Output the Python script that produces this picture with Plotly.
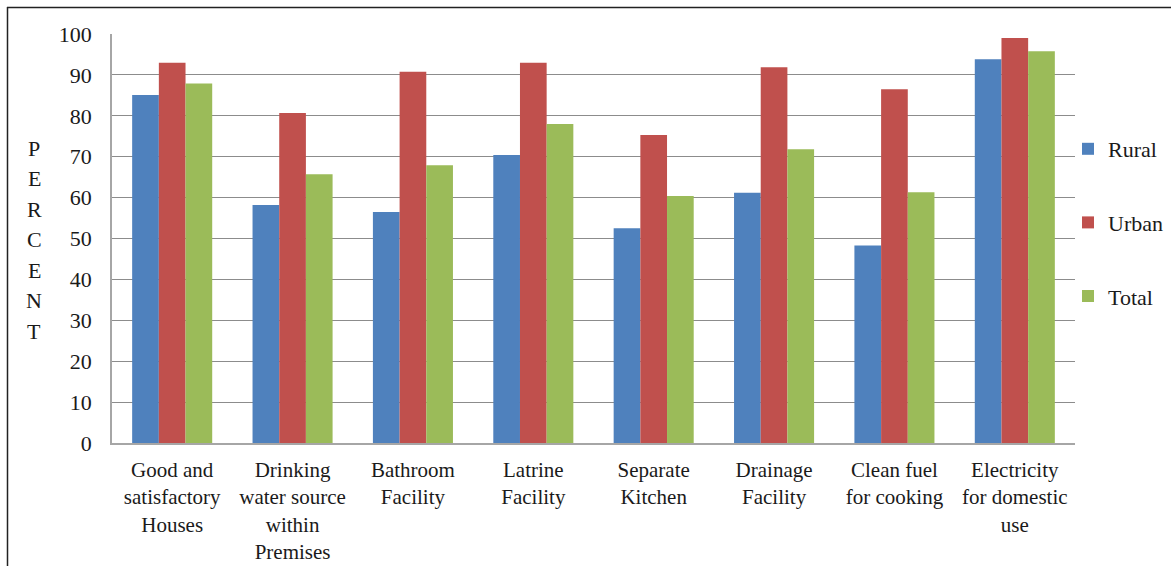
import plotly.graph_objects as go

categories = [
    "Good and<br>satisfactory<br>Houses",
    "Drinking<br>water source<br>within<br>Premises",
    "Bathroom<br>Facility",
    "Latrine<br>Facility",
    "Separate<br>Kitchen",
    "Drainage<br>Facility",
    "Clean fuel<br>for cooking",
    "Electricity<br>for domestic<br>use",
]
rural = [85.1, 58.2, 56.5, 70.4, 52.5, 61.2, 48.3, 93.8]
urban = [93.0, 80.7, 90.8, 93.0, 75.3, 91.9, 86.5, 99.0]
total = [87.9, 65.7, 67.9, 78.0, 60.4, 71.8, 61.3, 95.8]
y_ticks = [0, 10, 20, 30, 40, 50, 60, 70, 80, 90, 100]
y_label = "PERCENT"

series = [("Rural", rural, "#4F81BD"), ("Urban", urban, "#C0504D"), ("Total", total, "#9BBB59")]

FONT = "Times New Roman"

fig = go.Figure()
for name, vals, col in series:
    fig.add_trace(go.Bar(
        x=categories, y=vals, name=name, legendgroup=name,
        marker=dict(color=col, line=dict(width=0)),
    ))

W, H = 1171, 566
L, R, T, B = 112, 96, 34, 123
pw, ph = W - L - R, H - T - B

def px_x(p):
    return (p - L) / pw

def px_y(p):
    return (H - B - p) / ph

fig.update_layout(
    width=W, height=H,
    margin=dict(l=L, r=R, t=T, b=B, autoexpand=False),
    paper_bgcolor="white", plot_bgcolor="white",
    barmode="group", bargap=0.335, bargroupgap=0,
    font=dict(family=FONT, size=21, color="#1a1a1a"),
    showlegend=True,
    legend=dict(
        x=px_x(1068), xanchor="left", y=px_y(128), yanchor="top",
        font=dict(family=FONT, size=22, color="#1a1a1a"),
        tracegroupgap=42, bgcolor="rgba(0,0,0,0)",
    ),
    xaxis=dict(
        showgrid=False, showline=True, linecolor="#a6a6a6", linewidth=1.5,
        ticks="", ticklabelstandoff=7,
        tickfont=dict(family=FONT, size=21, color="#1a1a1a"),
        tickangle=0,
    ),
    yaxis=dict(
        range=[0, 100], tickvals=y_ticks, showgrid=True, gridcolor="#8c8c8c",
        gridwidth=1, showline=True, linecolor="#a6a6a6", linewidth=1.5,
        ticks="", ticklabelstandoff=14, zeroline=False,
        tickfont=dict(family=FONT, size=22, color="#1a1a1a"),
    ),
    shapes=[
        dict(type="line", xref="paper", yref="paper",
             x0=px_x(7), x1=px_x(W + 5), y0=px_y(7.5), y1=px_y(7.5),
             line=dict(color="#222222", width=1.5)),
        dict(type="line", xref="paper", yref="paper",
             x0=px_x(7.5), x1=px_x(7.5), y0=px_y(7), y1=px_y(H + 5),
             line=dict(color="#222222", width=1.5)),
    ],
)

letter_y = [148, 178.5, 209, 239.5, 270, 300.5, 331]
for ch, yy in zip(y_label, letter_y):
    fig.add_annotation(
        text=ch, xref="paper", yref="paper", x=px_x(34), y=px_y(yy),
        xanchor="center", yanchor="middle", showarrow=False,
        font=dict(family=FONT, size=22, color="#1a1a1a"),
    )

fig.write_html("out.html")
